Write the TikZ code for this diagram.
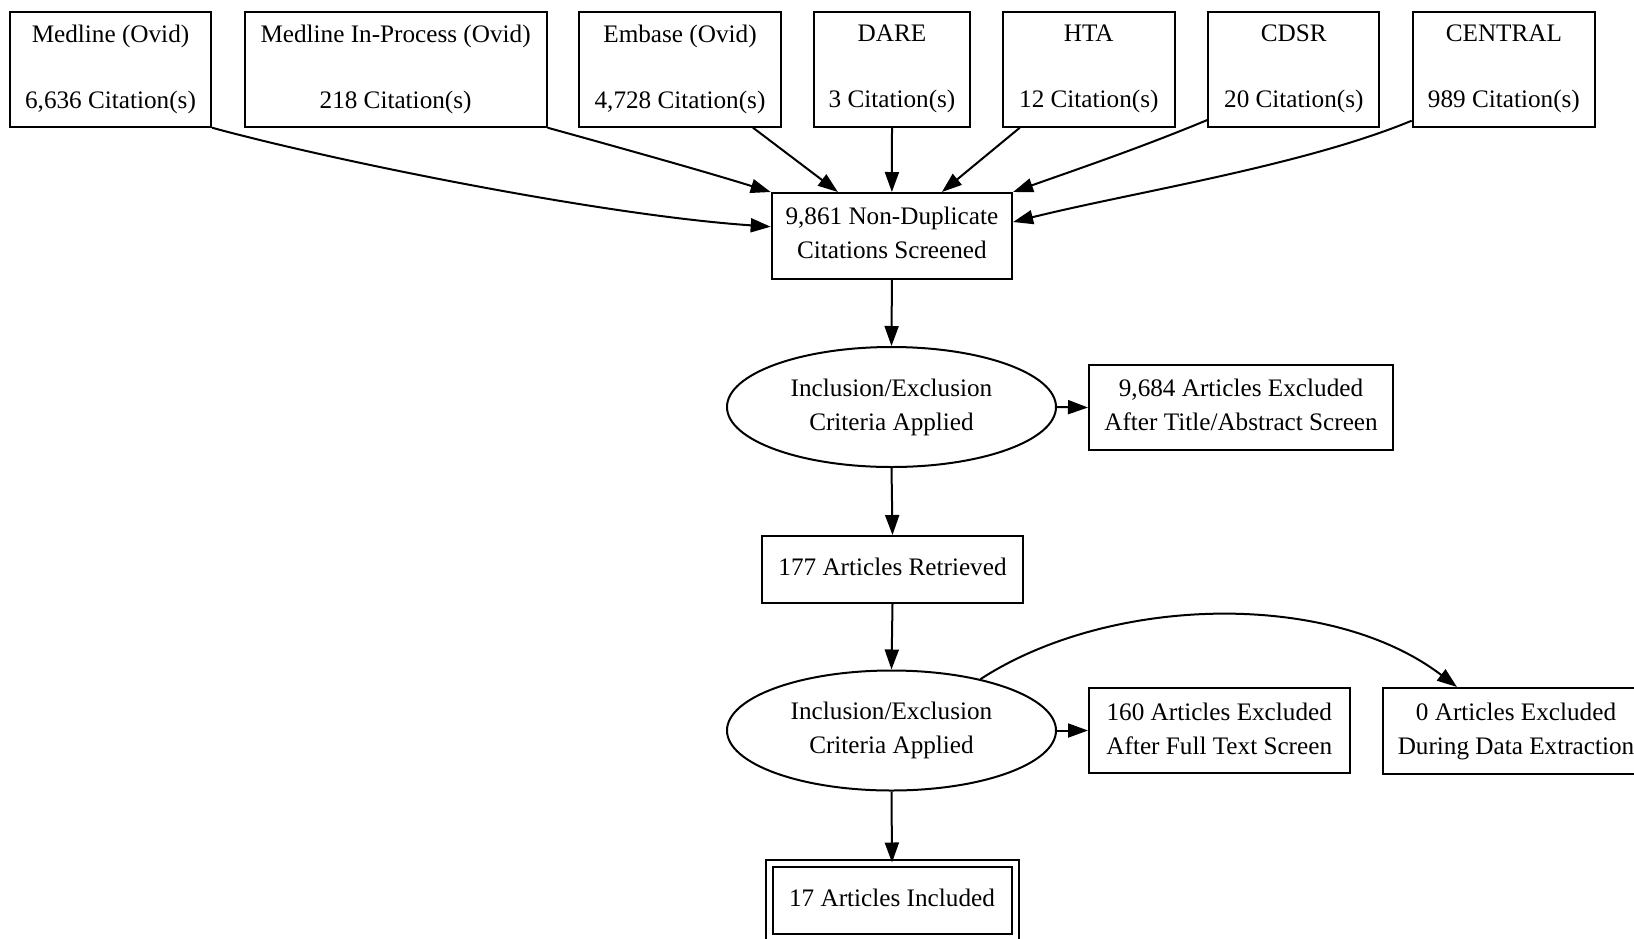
\documentclass[tikz,border=0pt]{standalone}
\usepackage{fontspec}
\setmainfont{Liberation Serif}
\usetikzlibrary{shapes.geometric,arrows.meta}
\newcommand\dgfont{\fontsize{12.6}{17}\selectfont}
\begin{document}
\begin{tikzpicture}[x=0.5pt,y=-0.5pt,
  box/.style={draw, line width=1pt, rectangle, inner sep=0pt, align=center, font=\dgfont},
  src/.style={box, minimum height=57.5pt},
  oval/.style={draw, line width=1pt, ellipse, inner sep=0pt, align=center, font=\dgfont, minimum width=164.5pt, minimum height=60pt},
  arr/.style={-{Triangle[length=10pt,width=7pt]}, line width=1pt}]
\useasboundingbox (0,0) rectangle (1634,938);
\fill[white] (0,0) rectangle (1634,938);
% sources
\node[src, minimum width=100.5pt] (m1) at (110.5,69.2) {Medline (Ovid)\\[16pt]6,636 Citation(s)};
\node[src, minimum width=151pt] (m2) at (395.6,69.2) {Medline In-Process (Ovid)\\[16pt]218 Citation(s)};
\node[src, minimum width=100.7pt] (emb) at (680,69.2) {Embase (Ovid)\\[16pt]4,728 Citation(s)};
\node[src, minimum width=78pt] (dare) at (892,69.2) {DARE\\[16pt]3 Citation(s)};
\node[src, minimum width=85.75pt] (hta) at (1088.8,69.2) {HTA\\[16pt]12 Citation(s)};
\node[src, minimum width=85.5pt] (cdsr) at (1293.8,69.2) {CDSR\\[16pt]20 Citation(s)};
\node[src, minimum width=91.2pt] (central) at (1503.9,69.2) {CENTRAL\\[16pt]989 Citation(s)};
% main flow
\node[box, text depth=3pt, minimum width=120.2pt, minimum height=43pt] (scr) at (891.9,236) {9,861 Non-Duplicate\\Citations Screened};
\node[oval] (inc1) at (891.5,407) {Inclusion/Exclusion\\Criteria Applied};
\node[box, text depth=3pt, minimum width=152pt, minimum height=42.5pt] (exc1) at (1241,407.5) {9,684 Articles Excluded\\After Title/Abstract Screen};
\node[box, text depth=3pt, minimum width=130.5pt, minimum height=33.5pt] (ret) at (892.5,569.5) {177 Articles Retrieved};
\node[oval] (inc2) at (891.5,730.5) {Inclusion/Exclusion\\Criteria Applied};
\node[box, text depth=1.5pt, minimum width=130.25pt, minimum height=42.5pt] (exc2) at (1219.25,730.5) {160 Articles Excluded\\After Full Text Screen};
\node[box, minimum width=133pt, minimum height=43pt] (exc3) at (1516,731) {0 Articles Excluded\\During Data Extraction};
\node[box, text depth=3pt, double, double distance=2.5pt, minimum width=123pt, minimum height=37pt] (fin) at (892,900.5) {17 Articles Included};
% source edges
\draw[arr] (m1.south east) .. controls (330,160) and (600,215) .. ([yshift=4.65pt]scr.west);
\draw[arr] (m2.south east) .. controls (610,145) and (700,170) .. (scr.north west);
\draw[arr] ([xshift=36.5pt]emb.south) -- ([xshift=-27pt]scr.north);
\draw[arr] (dare.south) -- (scr.north);
\draw[arr] ([xshift=-34.5pt]hta.south) -- ([xshift=25pt]scr.north);
\draw[arr] ([yshift=-25.4pt]cdsr.west) .. controls (1140,148) and (1075,170) .. (scr.north east);
\draw[arr] ([yshift=-25.75pt]central.west) .. controls (1302,166) and (1134,192) .. ([yshift=7pt]scr.east);
% flow edges
\draw[arr] (scr.south) -- (inc1.north);
\draw[arr] (inc1.east) -- (exc1.west);
\draw[arr] (inc1.south) -- (ret.north);
\draw[arr] (ret.south) -- (inc2.north);
\draw[arr] (inc2.east) -- (exc2.west);
\draw[arr] (inc2.30) .. controls (1110,595) and (1330,590) .. ([xshift=-29.5pt]exc3.north);
\draw[arr] (inc2.south) -- (fin.north);
\end{tikzpicture}
\end{document}
